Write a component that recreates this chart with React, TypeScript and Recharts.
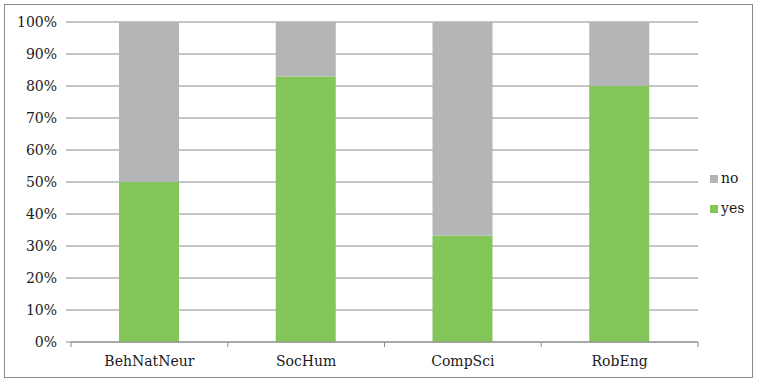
import { BarChart, Bar, XAxis, YAxis, CartesianGrid } from "recharts";

// valori (percentuali)
const categorie = ["BehNatNeur", "SocHum", "CompSci", "RobEng"];
const yes = [50, 83, 33.3, 80];
const no = [50, 17, 66.7, 20];
const yTicks = [0, 10, 20, 30, 40, 50, 60, 70, 80, 90, 100];

const VERDE = "#84C65A";
const GRIGIO = "#B3B5B6";
const LINEA = "#8C8C8C";
const FONT = "'DejaVu Serif', serif";
const FS = 14;

const dati = categorie.map((c, i) => ({ cat: c, yes: yes[i], no: no[i] }));

function TickX(props: any) {
  const { x, y, payload, index, visibleTicksCount } = props;
  const half = payload?.offset ?? 0;
  const y0 = y - 8;
  return (
    <g>
      <line x1={x - half} x2={x - half} y1={y0} y2={y0 + 5} stroke={LINEA} />
      {index === visibleTicksCount - 1 && (
        <line x1={x + half} x2={x + half} y1={y0} y2={y0 + 5} stroke={LINEA} />
      )}
      <text x={x} y={y0 + 24} textAnchor="middle" fontSize={FS} fill="#1a1a1a" style={{ fontFamily: FONT }}>
        {payload.value}
      </text>
    </g>
  );
}

export default function App() {
  return (
    <div style={{ position: "fixed", left: 0, top: 0, width: 758, height: 381, background: "#fff", fontFamily: FONT }}>
      <div
        style={{
          position: "absolute",
          left: 4,
          top: 4,
          width: 749,
          height: 374,
          border: "1px solid #8a8a8a",
          boxSizing: "border-box",
        }}
      />
      <BarChart
        width={758}
        height={381}
        data={dati}
        margin={{ top: 22, right: 60, left: 0, bottom: 0 }}
        barSize={60}
        style={{ position: "absolute", left: 0, top: 0 }}
      >
        <CartesianGrid vertical={false} stroke={LINEA} strokeWidth={1} />
        <XAxis
          dataKey="cat"
          axisLine={{ stroke: LINEA }}
          tickLine={false}
          tick={<TickX />}
          interval={0}
          height={39}
        />
        <YAxis
          width={71}
          domain={[0, 100]}
          ticks={yTicks}
          tickFormatter={(v) => `${v}%`}
          axisLine={false}
          tickLine={{ stroke: LINEA }}
          tickSize={5}
          tickMargin={9}
          tick={{ fontSize: FS, fill: "#1a1a1a", style: { fontFamily: FONT } }}
          interval={0}
        />
        <Bar dataKey="yes" stackId="a" fill={VERDE} isAnimationActive={false} />
        <Bar dataKey="no" stackId="a" fill={GRIGIO} isAnimationActive={false} />
      </BarChart>
      {/* legenda */}
      <div style={{ position: "absolute", left: 710, top: 163, fontSize: FS, color: "#1a1a1a" }}>
        {[
          { nome: "no", col: GRIGIO },
          { nome: "yes", col: VERDE },
        ].map((l) => (
          <div key={l.nome} style={{ display: "flex", alignItems: "center", height: 30 }}>
            <span style={{ width: 8, height: 8, background: l.col, marginRight: 3, marginTop: 2 }} />
            <span>{l.nome}</span>
          </div>
        ))}
      </div>
    </div>
  );
}
